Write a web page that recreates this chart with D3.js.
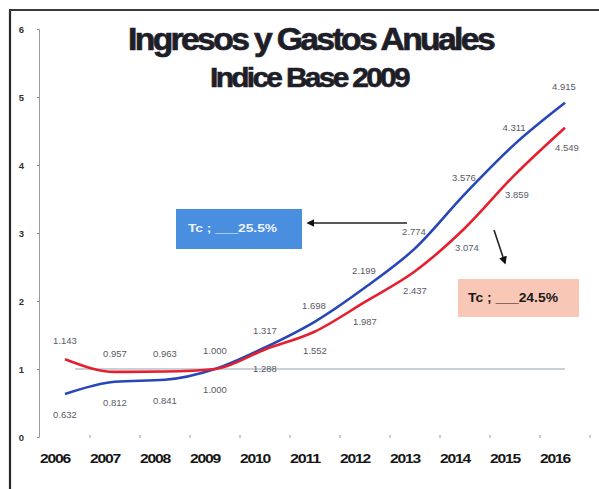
<!DOCTYPE html>
<html>
<head>
<meta charset="utf-8">
<script src="https://cdn.jsdelivr.net/npm/d3@7"></script>
<style>
  html, body { margin: 0; padding: 0; background: #fff; }
  svg { display: block; }
  text { font-family: "Liberation Sans", Arial, sans-serif; }
</style>
</head>
<body>
<svg id="chart" width="599" height="489"></svg>
<script>
// ---- data ----
const years = ["2006","2007","2008","2009","2010","2011","2012","2013","2014","2015","2016"];
const ingresos = [0.632, 0.812, 0.841, 1.000, 1.317, 1.698, 2.199, 2.774, 3.576, 4.311, 4.915];
const gastos   = [1.143, 0.957, 0.963, 1.000, 1.288, 1.552, 1.987, 2.437, 3.074, 3.859, 4.549];
const yTicks = [0, 1, 2, 3, 4, 5, 6];
const titleText = "Ingresos y Gastos Anuales";
const subtitleText = "Indice Base 2009";
const calloutBlue = "Tc ; ___25.5%";
const calloutRed = "Tc ; ___24.5%";
const baseValue = 1;

// ---- layout ----
const svg = d3.select("#chart");
const W = 599, H = 489;

const x = d3.scaleBand().domain(years).range([40, 590]).padding(0);
const y = d3.scaleLinear().domain([0, 6]).range([437, 29]);
const cx = d => x(d) + x.bandwidth() / 2;

// frame
svg.append("rect").attr("width", W).attr("height", H).attr("fill", "#fff");
svg.append("line").attr("x1", 10).attr("x2", 10).attr("y1", 9).attr("y2", H)
  .attr("stroke", "#2a2a2a").attr("stroke-width", 2.2);
svg.append("line").attr("x1", 9).attr("x2", W).attr("y1", 10).attr("y2", 10)
  .attr("stroke", "#3a3a3a").attr("stroke-width", 2);

// title (condensed, heavy)
svg.append("text").attr("x", 310.5).attr("y", 50).attr("text-anchor", "middle")
  .attr("font-size", 32).attr("font-weight", "bold").attr("fill", "#1e1e28")
  .attr("stroke", "#1e1e28").attr("stroke-width", 0.7)
  .attr("letter-spacing", -2.5)
  .attr("textLength", 365).attr("lengthAdjust", "spacingAndGlyphs")
  .text(titleText);
svg.append("text").attr("x", 309).attr("y", 87).attr("text-anchor", "middle")
  .attr("font-size", 28).attr("font-weight", "bold").attr("fill", "#1e1e28")
  .attr("stroke", "#1e1e28").attr("stroke-width", 0.6)
  .attr("letter-spacing", -2.5)
  .attr("textLength", 198).attr("lengthAdjust", "spacingAndGlyphs")
  .text(subtitleText);

// y axis
const yAxis = d3.axisLeft(y).tickValues(yTicks).tickSize(2).tickPadding(13)
  .tickFormat(d3.format("d"));
const gy = svg.append("g").attr("transform", "translate(39,0)").call(yAxis);
gy.select(".domain").attr("stroke", "#9a9aa4").attr("stroke-width", 1);
gy.selectAll(".tick line").attr("stroke", "#888");
gy.selectAll(".tick text").attr("font-size", 9.5).attr("font-weight", "bold").attr("fill", "#333")
  .attr("font-family", "'Liberation Sans', Arial, sans-serif");

// x axis: tick marks at band boundaries
const boundaries = years.slice(1).map(d => x(d)).concat([x.range()[1]]);
svg.append("g").selectAll("line").data(boundaries).join("line")
  .attr("x1", d => d).attr("x2", d => d).attr("y1", 435).attr("y2", 438)
  .attr("stroke", "#999").attr("stroke-width", 1);
svg.append("g").selectAll("text").data(years).join("text")
  .attr("x", d => cx(d) - 10).attr("y", 463).attr("text-anchor", "middle")
  .attr("font-size", 13).attr("font-weight", "bold").attr("fill", "#151515")
  .attr("letter-spacing", -1)
  .attr("textLength", 30).attr("lengthAdjust", "spacingAndGlyphs")
  .text(d => d);

// base line at index 1
svg.append("line").attr("x1", 75).attr("x2", 565)
  .attr("y1", y(baseValue)).attr("y2", y(baseValue))
  .attr("stroke", "#b8c0cc").attr("stroke-width", 1.3);

// series lines
const line = d3.line().x((d, i) => cx(years[i])).y(d => y(d)).curve(d3.curveMonotoneX);
svg.append("path").datum(ingresos).attr("d", line).attr("fill", "none")
  .attr("stroke", "#2747b8").attr("stroke-width", 2.6);
svg.append("path").datum(gastos).attr("d", line).attr("fill", "none")
  .attr("stroke", "#e4202e").attr("stroke-width", 2.6);

// data labels
const blueAbove = i => i >= 4;   // blue labels above line from 2010
const redAbove = i => i <= 3;    // red labels above line until 2009
const fmt = d3.format(".3f");
svg.append("g").selectAll("text").data(ingresos).join("text")
  .attr("x", (d, i) => cx(years[i]) + (i >= 5 ? -1 : 0))
  .attr("y", (d, i) => y(d) + (blueAbove(i) ? -13 : 24))
  .attr("text-anchor", "middle").attr("font-size", 9.5).attr("fill", "#5a5a66")
  .text(d => fmt(d));
svg.append("g").selectAll("text").data(gastos).join("text")
  .attr("x", (d, i) => cx(years[i]) + (i >= 8 ? 2 : 0))
  .attr("y", (d, i) => y(d) + (redAbove(i) ? -15 : 23))
  .attr("text-anchor", "middle").attr("font-size", 9.5).attr("fill", "#5a5a66")
  .text(d => fmt(d));

// callouts
svg.append("rect").attr("x", 176).attr("y", 209).attr("width", 126).attr("height", 40)
  .attr("fill", "#4a8ee0");
svg.append("text").attr("x", 188).attr("y", 232).attr("font-size", 11)
  .attr("font-weight", "bold").attr("fill", "#eef4ff")
  .attr("textLength", 89).attr("lengthAdjust", "spacingAndGlyphs")
  .text(calloutBlue);

svg.append("rect").attr("x", 458).attr("y", 279).attr("width", 121).attr("height", 38)
  .attr("fill", "#f9c7b6");
svg.append("text").attr("x", 468).attr("y", 302).attr("font-size", 12)
  .attr("font-weight", "bold").attr("fill", "#1a1a1a")
  .attr("textLength", 90).attr("lengthAdjust", "spacingAndGlyphs")
  .text(calloutRed);

// arrows
const defs = svg.append("defs");
defs.append("marker").attr("id", "arr").attr("viewBox", "0 0 10 10")
  .attr("refX", 8).attr("refY", 5).attr("markerWidth", 5).attr("markerHeight", 5)
  .attr("orient", "auto-start-reverse")
  .append("path").attr("d", "M0,0 L10,5 L0,10 z").attr("fill", "#111");
svg.append("line").attr("x1", 407).attr("y1", 223).attr("x2", 308).attr("y2", 223)
  .attr("stroke", "#222").attr("stroke-width", 1.6).attr("marker-end", "url(#arr)");
svg.append("line").attr("x1", 494).attr("y1", 230).attr("x2", 505).attr("y2", 263)
  .attr("stroke", "#222").attr("stroke-width", 1.6).attr("marker-end", "url(#arr)");
</script>
</body>
</html>
